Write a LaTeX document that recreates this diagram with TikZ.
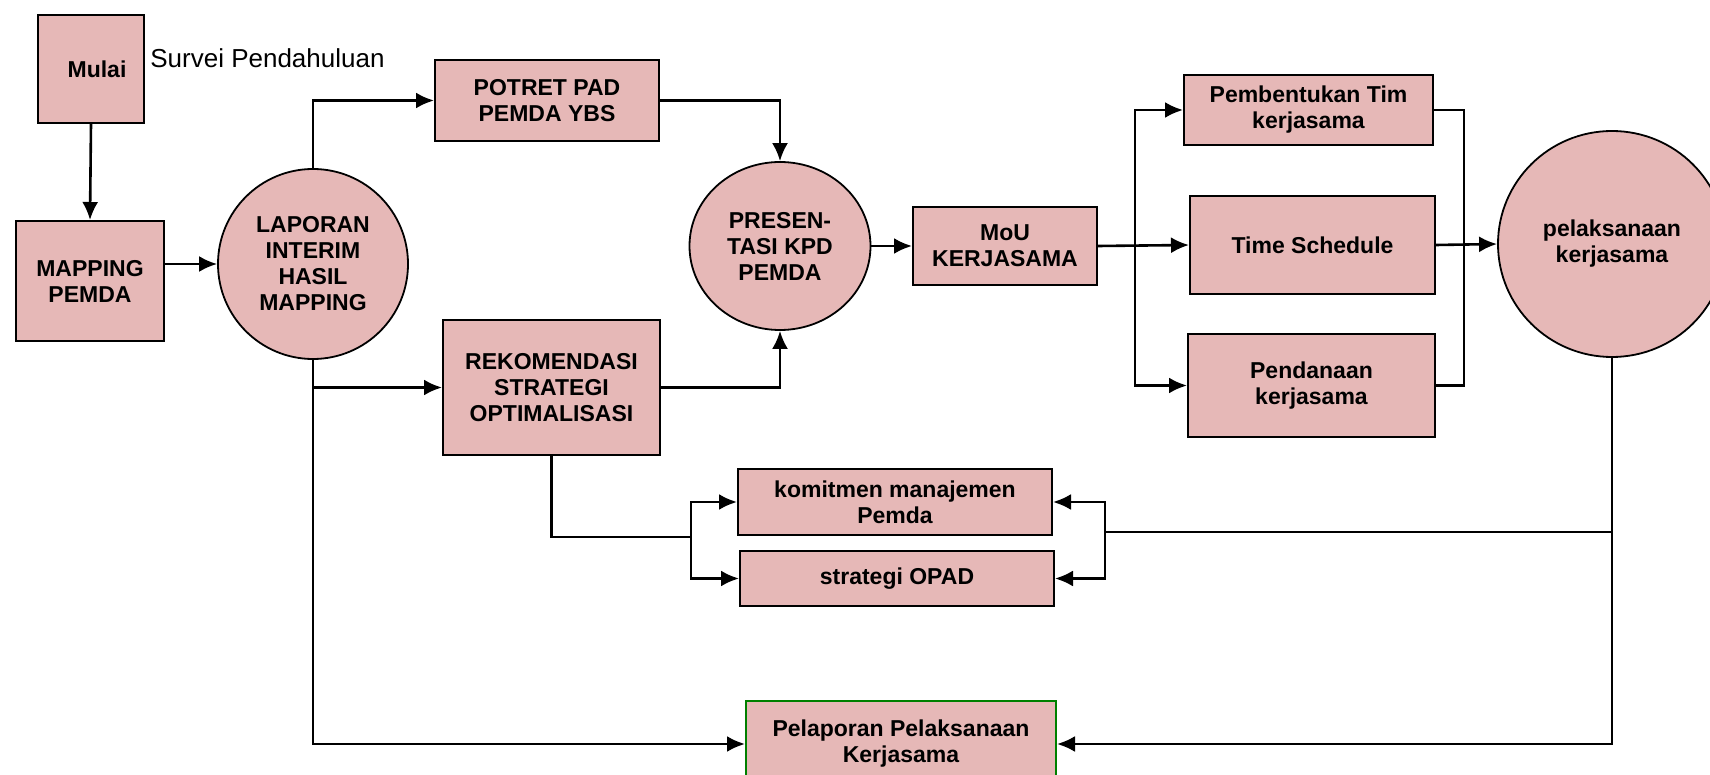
\documentclass[tikz,border=0pt]{standalone}
\usepackage{fontspec}
\setmainfont{Liberation Sans}
\usepackage{tikz}
\usetikzlibrary{arrows.meta,shapes.geometric}
\usepackage{xcolor}
\definecolor{pdpink}{RGB}{230,184,183}
\definecolor{pdgreen}{RGB}{0,128,0}
\tikzstyle{stepbox} = [rectangle, draw=black, fill=pdpink, line width=1pt, align=center, inner sep=2pt, font=\bfseries\fontsize{11.5}{13}\selectfont]
\tikzstyle{roundnode} = [ellipse, draw=black, fill=pdpink, line width=0.9pt, align=center, inner sep=0pt, font=\bfseries\fontsize{11.5}{13}\selectfont]
\tikzstyle{arrow} = [line width=1.3pt, -{Latex[length=9pt,width=8pt]}]
\tikzstyle{line} = [line width=1.3pt]

\begin{document}
\begin{tikzpicture}[x=0.5pt, y=-0.5pt]
\useasboundingbox (0,0) rectangle (1710,775);

% Start and survey
\node[stepbox, minimum width=53pt, minimum height=54pt] (mulai) at (91,69) {\raisebox{-2pt}{\hspace{6pt}Mulai}};
\node[anchor=west, font=\fontsize{13}{15}\selectfont, inner sep=0pt] (survei) at (150,58) {Survei Pendahuluan};
\node[stepbox, minimum width=74pt, minimum height=60pt] (mapping) at (90,281) {MAPPING\\PEMDA};

% Interim report and its two outputs
\node[roundnode, minimum width=95pt, minimum height=95pt] (laporan) at (313,264) {LAPORAN\\INTERIM\\HASIL\\MAPPING};
\node[stepbox, minimum width=112pt, minimum height=40.5pt] (potret) at (547,100.5) {POTRET PAD\\PEMDA YBS};
\node[stepbox, minimum width=108.5pt, minimum height=67.5pt] (rekom) at (551.5,387.5) {REKOMENDASI\\STRATEGI\\OPTIMALISASI};
\node[roundnode, minimum width=90.5pt, minimum height=84pt] (presentasi) at (780,246) {PRESEN-\\TASI KPD\\PEMDA};

% MoU and follow-up
\node[stepbox, minimum width=92pt, minimum height=39pt] (mou) at (1005,246) {MoU\\KERJASAMA};
\node[stepbox, minimum width=124.5pt, minimum height=35pt] (tim) at (1308.5,110) {Pembentukan Tim\\kerjasama};
\node[stepbox, minimum width=122.5pt, minimum height=49pt] (schedule) at (1312.5,245) {Time Schedule};
\node[stepbox, minimum width=123.5pt, minimum height=51.5pt] (pendanaan) at (1311.5,385.5) {Pendanaan\\kerjasama};
\node[roundnode, minimum width=114pt, minimum height=113pt] (pelaksanaan) at (1612,244) {pelaksanaan\\kerjasama};

% Commitment and strategy
\node[stepbox, minimum width=157pt, minimum height=33pt] (komitmen) at (895,502) {komitmen manajemen\\Pemda};
\node[stepbox, minimum width=157pt, minimum height=27.5pt] (opad) at (897,578.5) {strategi OPAD};

% Report
\node[stepbox, draw=pdgreen, minimum width=155pt, minimum height=43pt] (pelaporan) at (901,744) {Pelaporan Pelaksanaan\\Kerjasama};

% Junction points
\coordinate (split) at (1135,246);
\coordinate (join) at (1464,246);
\coordinate (lbr) at (691,537);
\coordinate (rbr) at (1105,532);

% Connections, left part
\draw[arrow] (mulai.south) -- (mapping.north);
\draw[arrow] (mapping.east |- laporan.west) -- (laporan.west);
\draw[arrow] (laporan.north) |- (potret.west);
\draw[arrow] (laporan.south |- rekom.west) -- (rekom.west);
\draw[arrow] (laporan.south) |- (pelaporan.west);
\draw[arrow] (potret.east) -| (presentasi.north);
\draw[arrow] (rekom.east) -| (presentasi.south);
\draw[arrow] (presentasi.east) -- (mou.west);

% Connections, right part
\draw[arrow] (mou.east) -- (schedule.west);
\draw[arrow] (split) |- (tim.west);
\draw[arrow] (split) |- (pendanaan.west);
\draw[line] (tim.east) -| (join) |- (pendanaan.east);
\draw[arrow] (schedule.east) -- (pelaksanaan.west);
\draw[arrow] (pelaksanaan.south) |- (pelaporan.east);

% Brackets round commitment and strategy
\draw[line] (rekom.south) |- (lbr);
\draw[arrow] (lbr) |- (komitmen.west);
\draw[arrow] (lbr) |- (opad.west);
\draw[line] (pelaksanaan.south |- rbr) -- (rbr);
\draw[arrow] (rbr) |- (komitmen.east);
\draw[arrow] (rbr) |- (opad.east);
\end{tikzpicture}
\end{document}
